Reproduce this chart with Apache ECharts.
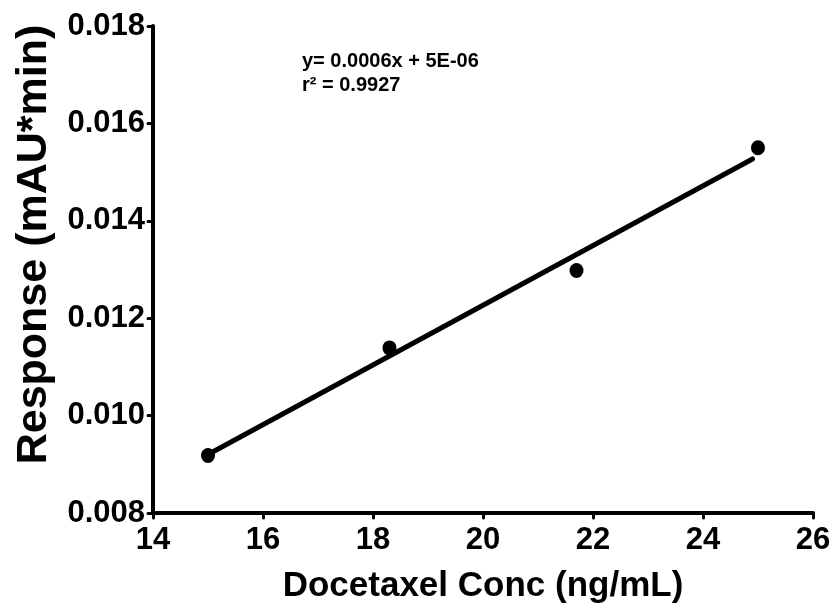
<!DOCTYPE html>
<html>
<head>
<meta charset="utf-8">
<script src="https://cdn.jsdelivr.net/npm/echarts@6/dist/echarts.min.js"></script>
<style>html,body{margin:0;padding:0;background:#fff}#c{width:836px;height:616px}</style>
</head>
<body>
<div id="c"></div>
<script>
var concX = [15, 18.3, 21.7, 25];
var responseY = [0.00918, 0.01139, 0.01298, 0.0155];
var fitX = [15, 24.9];
var fitY = [0.0092, 0.01527];
var xTicks = [14, 16, 18, 20, 22, 24, 26];
var yTicks = [0.008, 0.010, 0.012, 0.014, 0.016, 0.018];
var eqLine1 = 'y= 0.0006x + 5E-06';
var eqLine2 = 'r\u00B2 = 0.9927';
var xTitle = 'Docetaxel Conc (ng/mL)';
var yTitle = 'Response (mAU*min)';

var FONT = '"Liberation Sans", Arial, sans-serif';
var chart = echarts.init(document.getElementById('c'), null, {renderer: 'canvas'});
var pts = concX.map(function (x, i) { return [x, responseY[i]]; });
var fit = fitX.map(function (x, i) { return [x, fitY[i]]; });
var axisLineStyle = {color: '#000', width: 4, cap: 'round'};
chart.setOption({
  animation: false,
  backgroundColor: '#fff',
  grid: {left: 153, right: 23, top: 26, bottom: 103},
  xAxis: {
    type: 'value', min: xTicks[0], max: xTicks[xTicks.length - 1], interval: 2,
    name: xTitle, nameLocation: 'middle', nameGap: 56,
    nameTextStyle: {fontFamily: FONT, fontWeight: 'bold', fontSize: 35, color: '#000'},
    axisLine: {show: true, onZero: false, lineStyle: axisLineStyle},
    axisTick: {show: true, length: 5, lineStyle: {color: '#000', width: 3, cap: 'round'}},
    axisLabel: {fontFamily: FONT, fontWeight: 'bold', fontSize: 31, color: '#000', margin: 12},
    splitLine: {show: false}
  },
  yAxis: {
    type: 'value', min: yTicks[0], max: yTicks[yTicks.length - 1], interval: 0.002,
    name: yTitle, nameLocation: 'middle', nameGap: 97, nameRotate: 90,
    nameTextStyle: {fontFamily: FONT, fontWeight: 'bold', fontSize: 43, color: '#000',
      padding: [0, 0, 0, 50]},
    axisLine: {show: true, onZero: false, lineStyle: axisLineStyle},
    axisTick: {show: true, length: 5, lineStyle: {color: '#000', width: 3, cap: 'round'}},
    axisLabel: {fontFamily: FONT, fontWeight: 'bold', fontSize: 31, color: '#000', margin: 8,
      formatter: function (v) { return v.toFixed(3); }},
    splitLine: {show: false}
  },
  graphic: [{
    type: 'text', left: 302, top: 49,
    style: {text: eqLine1 + '\n' + eqLine2, fill: '#000', font: 'bold 20px ' + FONT, lineHeight: 24}
  }],
  series: [{
    type: 'line', data: fit, showSymbol: false, symbol: 'none',
    lineStyle: {color: '#000', width: 5, cap: 'round'}, z: 2
  }, {
    type: 'scatter', data: pts, symbol: 'circle', symbolSize: [14, 15],
    itemStyle: {color: '#000', opacity: 1}, z: 3
  }]
});
</script>
</body>
</html>
